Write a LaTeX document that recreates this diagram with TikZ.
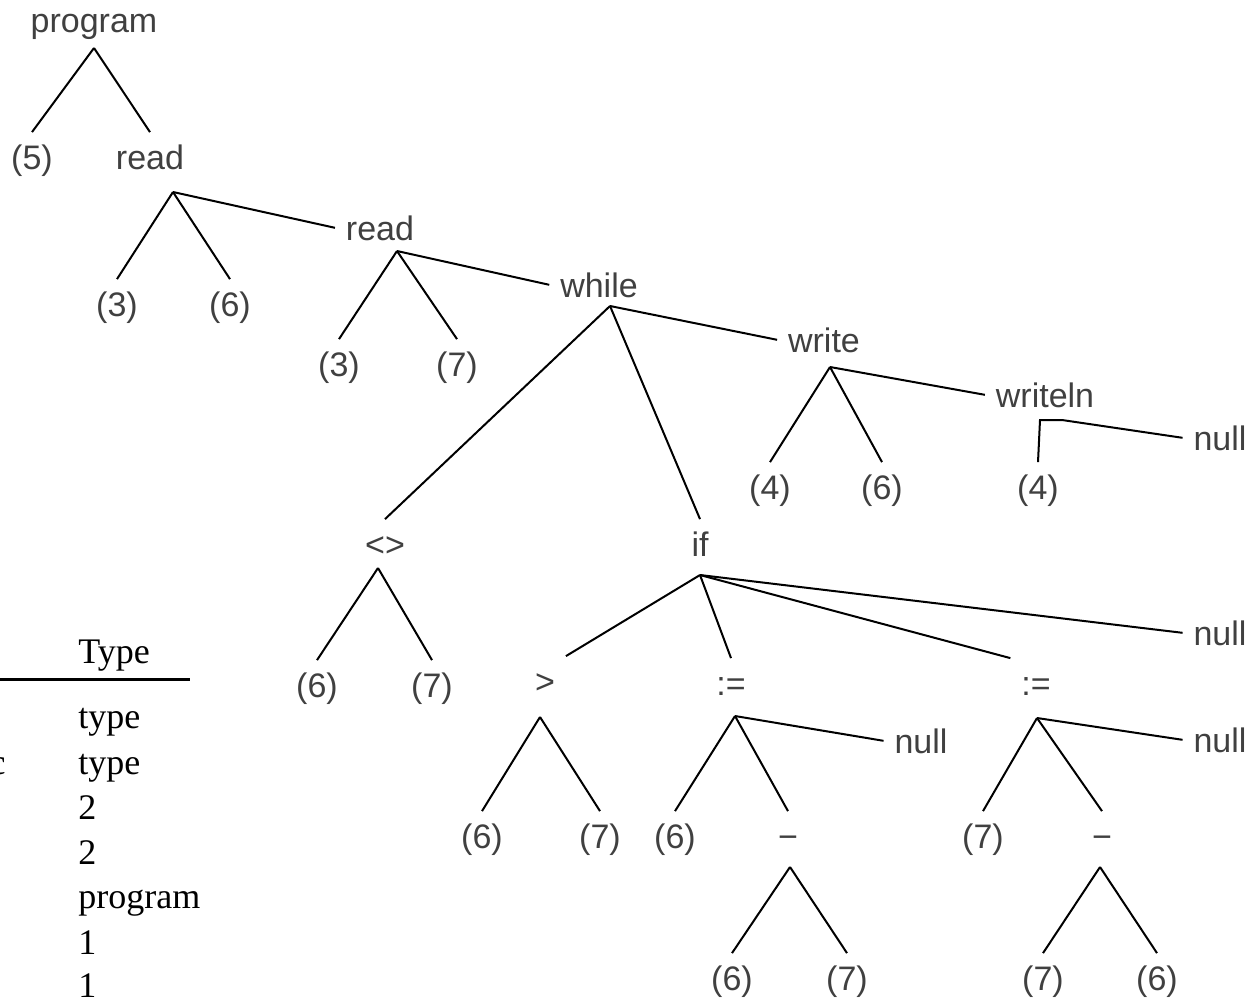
\documentclass[tikz,border=0pt]{standalone}
\usepackage{fontspec}
\newfontfamily\treefont{Liberation Sans}
\newfontfamily\tablefont{Liberation Serif}
\begin{document}
\begin{tikzpicture}[x=0.5pt,y=-0.5pt,
  lab/.style={font=\treefont\fontsize{17pt}{20pt}\selectfont, text=black!75,
    inner sep=0pt, text height=12.2pt, text depth=0pt,
    outer xsep=5.5pt, outer ysep=6.25pt, anchor=base},
  edge/.style={line width=1pt},
  cell/.style={font=\tablefont\fontsize{18pt}{21pt}\selectfont,
    inner sep=0pt, anchor=base west}]
\useasboundingbox (0,0) rectangle (1256,1002);
\clip (0,0) rectangle (1256,1002);

% ---- tree labels ----
\node[lab] (prog) at (94,32) {program};
\node[lab] (p5)   at (32,169) {(5)};
\node[lab] (rd1)  at (150,169) {read};
\node[lab] (r1l)  at (117,316) {(3)};
\node[lab] (r1r)  at (230,316) {(6)};
\node[lab] (rd2)  at (380,240) {read};
\node[lab] (r2l)  at (339,376) {(3)};
\node[lab] (r2r)  at (457,376) {(7)};
\node[lab] (wh)   at (599,297) {while};
\node[lab] (wr)   at (824,352) {write};
\node[lab] (wrl)  at (770,499) {(4)};
\node[lab] (wrr)  at (882,499) {(6)};
\node[lab] (wl)   at (1045,407) {writeln};
\node[lab] (wll)  at (1038,499) {(4)};
\node[lab] (nl1)  at (1220,450) {null};
\node[lab] (ne)   at (385,556) {<>};
\node[lab] (nel)  at (317,697) {(6)};
\node[lab] (ner)  at (432,697) {(7)};
\node[lab] (if)   at (700,556) {if};
\node[lab] (nl2)  at (1220,645) {null};
\node[lab] (gt)   at (545,693) {>};
\node[lab] (gtl)  at (482,848) {(6)};
\node[lab] (gtr)  at (600,848) {(7)};
\node[lab] (as1)  at (731,695) {:=};
\node[lab] (nl3)  at (921,753) {null};
\node[lab] (a1l)  at (675,848) {(6)};
\node[lab] (mn1)  at (788,848) {−};
\node[lab] (m1l)  at (732,990) {(6)};
\node[lab] (m1r)  at (847,990) {(7)};
\node[lab] (as2)  at (1036,695) {:=};
\node[lab] (nl4)  at (1220,752) {null};
\node[lab] (a2l)  at (983,848) {(7)};
\node[lab] (mn2)  at (1102,848) {−};
\node[lab] (m2l)  at (1043,990) {(7)};
\node[lab] (m2r)  at (1157,990) {(6)};

% ---- branch points below each parent ----
\coordinate (prog-a) at (94,48);
\coordinate (rd1-a)  at (173,192);
\coordinate (rd2-a)  at (397,251);
\coordinate (wh-a)   at (610,306);
\coordinate (wr-a)   at (830,367);
\coordinate (wl-a)   at (1040,420);
\coordinate (wl-b)   at (1062,420);
\coordinate (ne-a)   at (378,568);
\coordinate (if-a)   at (700,575);
\coordinate (gt-a)   at (540,717);
\coordinate (as1-a)  at (735,716);
\coordinate (mn1-a)  at (790,867);
\coordinate (as2-a)  at (1037,718);
\coordinate (mn2-a)  at (1100,867);

% ---- connectors ----
\draw[edge] (prog-a) -- (p5.north);
\draw[edge] (prog-a) -- (rd1.north);
\draw[edge] (rd1-a) -- (r1l.north);
\draw[edge] (rd1-a) -- (r1r.north);
\draw[edge] (rd1-a) -- (rd2.west);
\draw[edge] (rd2-a) -- (r2l.north);
\draw[edge] (rd2-a) -- (r2r.north);
\draw[edge] (rd2-a) -- (wh.west);
\draw[edge] (wh-a) -- (ne.north);
\draw[edge] (wh-a) -- (if.north);
\draw[edge] (wh-a) -- (wr.west);
\draw[edge] (wr-a) -- (wrl.north);
\draw[edge] (wr-a) -- (wrr.north);
\draw[edge] (wr-a) -- (wl.west);
\draw[edge] (wll.north) -- (wl-a) -- (wl-b) -- (nl1.west);
\draw[edge] (ne-a) -- (nel.north);
\draw[edge] (ne-a) -- (ner.north);
\draw[edge] (if-a) -- (gt.north east);
\draw[edge] (if-a) -- (as1.north);
\draw[edge] (if-a) -- (as2.north west);
\draw[edge] (if-a) -- (nl2.west);
\draw[edge] (gt-a) -- (gtl.north);
\draw[edge] (gt-a) -- (gtr.north);
\draw[edge] (as1-a) -- (a1l.north);
\draw[edge] (as1-a) -- (mn1.north);
\draw[edge] (as1-a) -- (nl3.west);
\draw[edge] (mn1-a) -- (m1l.north);
\draw[edge] (mn1-a) -- (m1r.north);
\draw[edge] (as2-a) -- (a2l.north);
\draw[edge] (as2-a) -- (mn2.north);
\draw[edge] (as2-a) -- (nl4.west);
\draw[edge] (mn2-a) -- (m2l.north);
\draw[edge] (mn2-a) -- (m2r.north);

% ---- table column ----
\node[cell] (thead) at (78,663) {Type};
\coordinate (rule-l) at (0,679);
\coordinate (rule-r) at (190,679);
\draw[line width=1.5pt] (rule-l) -- (rule-r);
\node[cell] (t1) at (78,728) {type};
\node[cell] (t2) at (78,774) {type};
\node[cell] (t3) at (78,819) {2};
\node[cell] (t4) at (78,864) {2};
\node[cell] (t5) at (78,908) {program};
\node[cell] (t6) at (78,954) {1};
\node[cell] (t7) at (78,997) {1};
\node[cell, anchor=base east] (tc) at (6,774) {c};
\end{tikzpicture}
\end{document}
